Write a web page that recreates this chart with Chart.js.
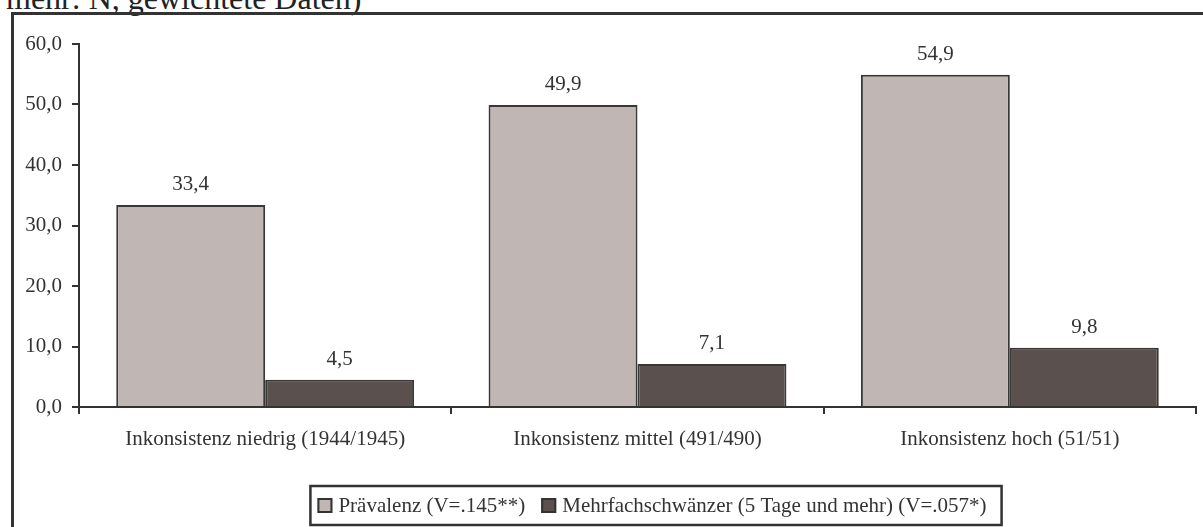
<!DOCTYPE html>
<html>
<head>
<meta charset="utf-8">
<script src="https://cdn.jsdelivr.net/npm/chart.js@4"></script>
<style>
  html, body { margin: 0; padding: 0; background: #fff; overflow: hidden; }
  #wrap { position: relative; width: 1203px; height: 527px; }
  #title { position: absolute; left: 6px; top: -18px; font: 32px "Liberation Serif", "Times New Roman", serif; line-height: 32px; color: #222; white-space: nowrap; }
  #frame { position: absolute; left: 11px; top: 12px; width: 1203px; height: 527px; border-top: 3px solid #333; border-left: 3px solid #333; }
  #box { position: absolute; left: 0; top: 0; width: 1203px; height: 527px; }
</style>
</head>
<body>
<div id="wrap">
  <div id="title">mehr: N, gewichtete Daten)</div>
  <div id="frame"></div>
  <div id="box"><canvas id="chart"></canvas></div>
</div>
<script>
const categories = ["Inkonsistenz niedrig (1944/1945)", "Inkonsistenz mittel (491/490)", "Inkonsistenz hoch (51/51)"];
const praevalenz = [33.4, 49.9, 54.9];
const mehrfach = [4.5, 7.1, 9.8];
const seriesNames = ["Prävalenz (V=.145**)", "Mehrfachschwänzer (5 Tage und mehr) (V=.057*)"];

const FONT = '"Liberation Serif", "Times New Roman", serif';
const fmt = v => v.toFixed(1).replace('.', ',');

// value labels above the bars
const valueLabels = {
    id: 'valueLabels',
    afterDatasetsDraw(chart) {
        const ctx = chart.ctx;
        ctx.save();
        ctx.font = '21px ' + FONT;
        ctx.fillStyle = '#333';
        ctx.textAlign = 'center';
        ctx.textBaseline = 'alphabetic';
        chart.data.datasets.forEach((ds, i) => {
            chart.getDatasetMeta(i).data.forEach((bar, j) => {
                ctx.fillText(fmt(ds.data[j]), bar.x, bar.y - 15);
            });
        });
        ctx.restore();
    }
};

// boxed legend below the axis
const boxLegend = {
    id: 'boxLegend',
    afterDraw(chart) {
        const ctx = chart.ctx;
        ctx.save();
        ctx.font = '21px ' + FONT;
        const padL = 7, padR = 15, sw = 15, gap = 6, itemGap = 16;
        const items = chart.data.datasets.map(ds => ({ text: ds.label, color: ds.backgroundColor, w: ctx.measureText(ds.label).width }));
        let total = padL + padR;
        items.forEach((it, i) => { total += sw + gap + it.w + (i ? itemGap : 0); });
        const cx = 656, top = 486, h = 39;
        const left = cx - total / 2;
        ctx.strokeStyle = '#333';
        ctx.lineWidth = 2.5;
        ctx.strokeRect(left, top, total, h);
        let x = left + padL;
        const mid = top + h / 2;
        items.forEach((it, i) => {
            if (i) x += itemGap;
            ctx.fillStyle = it.color;
            ctx.fillRect(x, mid - sw / 2, sw, sw);
            ctx.lineWidth = 2;
            ctx.strokeRect(x + 1, mid - sw / 2 + 1, sw - 2, sw - 2);
            x += sw + gap;
            ctx.fillStyle = '#333';
            ctx.textBaseline = 'middle';
            ctx.textAlign = 'left';
            ctx.fillText(it.text, x, mid + 1);
            x += it.w;
        });
        ctx.restore();
    }
};

new Chart(document.getElementById('chart'), {
    type: 'bar',
    data: {
        labels: categories,
        datasets: [
            { label: seriesNames[0], data: praevalenz, backgroundColor: '#c0b7b4', borderColor: '#383838', borderWidth: 2 },
            { label: seriesNames[1], data: mehrfach, backgroundColor: '#5a504d', borderColor: '#383838', borderWidth: 2 }
        ]
    },
    options: {
        responsive: true,
        maintainAspectRatio: false,
        animation: false,
        layout: { padding: { top: 44, right: 7, bottom: 0, left: 0 } },
        datasets: { bar: { categoryPercentage: 0.8, barPercentage: 1.0 } },
        plugins: { legend: { display: false }, tooltip: { enabled: false } },
        scales: {
            x: {
                offset: true,
                grid: { offset: true, drawOnChartArea: false, drawTicks: true, tickLength: 7, color: '#333', lineWidth: 2 },
                border: { display: true, color: '#333', width: 2 },
                ticks: { color: '#333', font: { family: FONT, size: 21 }, padding: 13, maxRotation: 0 },
                afterFit(s) { s.height = 120; }
            },
            y: {
                min: 0, max: 60,
                ticks: { stepSize: 10, color: '#333', font: { family: FONT, size: 21 }, padding: 10, callback: v => fmt(v) },
                grid: { drawOnChartArea: false, drawTicks: true, tickLength: 7, color: '#333', lineWidth: 2 },
                border: { display: true, color: '#333', width: 2 },
                afterFit(s) { s.width = 79; }
            }
        }
    },
    plugins: [valueLabels, boxLegend]
});
</script>
</body>
</html>
